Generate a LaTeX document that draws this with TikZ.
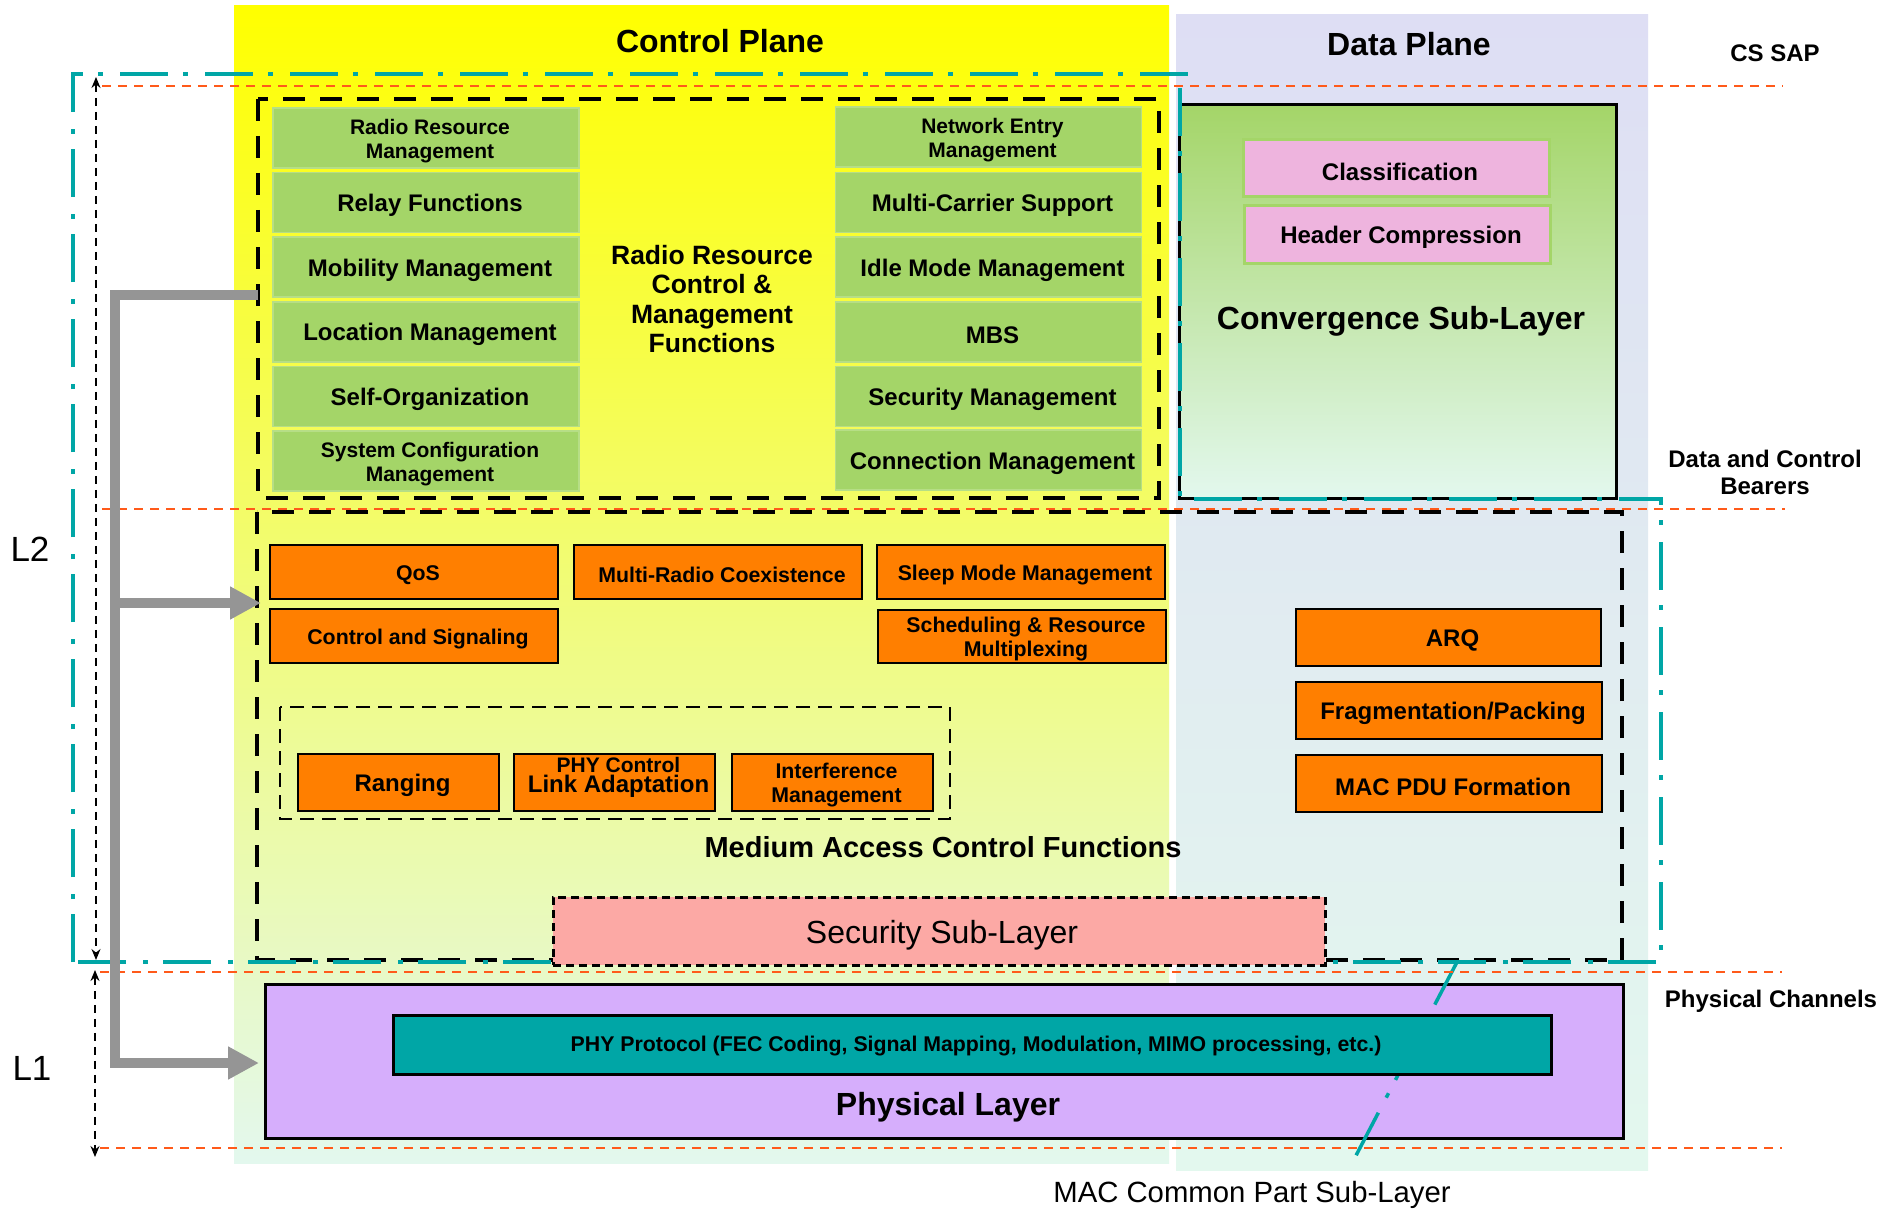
\documentclass[tikz,border=0pt]{standalone}
\usepackage{fontspec}
\setmainfont{Liberation Sans}
\usetikzlibrary{arrows.meta}
\definecolor{cyel}{HTML}{FFFF00}
\definecolor{cyelmid}{HTML}{F2F78E}
\definecolor{cmint}{HTML}{E3F8EE}
\definecolor{clav}{HTML}{DEDEF4}
\definecolor{clavmid}{HTML}{E0E9F1}
\definecolor{cgreen}{HTML}{A4D568}
\definecolor{cgreenl}{HTML}{B6DE86}
\definecolor{corange}{HTML}{FF7F00}
\definecolor{cpink}{HTML}{EEB4DE}
\definecolor{csalmon}{HTML}{FCA9A5}
\definecolor{cpurple}{HTML}{D6AEFC}
\definecolor{cteal}{HTML}{00A6A6}
\definecolor{cred}{HTML}{FF5A1A}
\definecolor{cgray}{HTML}{959595}
\newcommand\fsz[2]{\fontsize{#1}{#2}\selectfont}
\begin{document}
\begin{tikzpicture}[x=1pt,y=-1pt,
  bt/.style={inner sep=0pt, align=center, xshift=4pt, yshift=-3pt},
  gfont/.style={font=\bfseries\fsz{24}{28}},
  gsfont/.style={font=\bfseries\fsz{21}{24}},
  ofont/.style={font=\bfseries\fsz{21.3}{24}},
  olfont/.style={font=\bfseries\fsz{24}{28}},
  gbox/.style={fill=cgreen, draw=cgreenl, line width=1.5pt, minimum width=306pt, minimum height=60pt, inner sep=0pt},
  obox/.style={fill=corange, draw=black, line width=2.5pt, inner sep=0pt},
  pbox/.style={fill=cpink, draw=cgreen, line width=3pt, minimum width=306pt, minimum height=57pt, inner sep=0pt},
  lbl/.style={font=\bfseries\fsz{24}{27}, align=center},
  bigdash/.style={draw=black, line width=4.5pt, dash pattern=on 22pt off 15pt},
  tealdd/.style={draw=cteal, line width=4.5pt, dash pattern=on 48pt off 15pt on 5pt off 17pt},
  reddash/.style={draw=cred, line width=2.5pt, dash pattern=on 9pt off 7pt},
  blkarrow/.style={draw=black, line width=1.5pt, dash pattern=on 8pt off 6pt, {Stealth[length=11pt,width=9pt]}-{Stealth[length=11pt,width=9pt]}},
  grayarrow/.style={draw=cgray, line width=10pt, -{Triangle[length=31pt,width=31pt]}}
]
\useasboundingbox (0,0) rectangle (1879,1209);
\fill[white] (0,0) rectangle (1879,1209);

% plane backgrounds
\shade[top color=cyel, middle color=cyelmid, bottom color=cmint] (234,6) rectangle (1169,1163);
\shade[top color=clav, middle color=clavmid, bottom color=cmint] (1176,15) rectangle (1648,1170);

% control functions
\node[gbox, label={[bt,gsfont]center:Radio Resource\\Management}] (rrm) at (426,138) {};
\node[gbox, label={[bt,gfont]center:Relay Functions}] (relay) at (426,202.6) {};
\node[gbox, label={[bt,gfont]center:Mobility Management}] (mob) at (426,267.2) {};
\node[gbox, label={[bt,gfont]center:Location Management}] (loc) at (426,331.8) {};
\node[gbox, label={[bt,gfont]center:Self-Organization}] (selforg) at (426,396.4) {};
\node[gbox, label={[bt,gsfont]center:System Configuration\\Management}] (syscfg) at (426,461) {};

\node[gbox, label={[bt,gsfont]center:Network Entry\\Management}] (nem) at (988.5,137) {};
\node[gbox, label={[bt,gfont]center:Multi-Carrier Support}] (mcs) at (988.5,202.6) {};
\node[gbox, label={[bt,gfont]center:Idle Mode Management}] (idle) at (988.5,267.2) {};
\node[gbox, label={[bt,gfont]center:MBS}] (mbs) at (988.5,331.8) {};
\node[gbox, label={[bt,gfont]center:Security Management}] (secm) at (988.5,396.4) {};
\node[gbox, label={[bt,gfont]center:Connection Management}] (conn) at (988.5,460) {};

\node[font=\bfseries\fsz{26.5}{29.5}, align=center] (rrc) at (712,299) {Radio Resource\\Control \&\\Management\\Functions};
\draw[bigdash] (258,99) rectangle (1159,498);

% convergence sub-layer
\node[draw=black, line width=3pt, top color=cgreen, bottom color=cmint, minimum width=437pt, minimum height=394pt, anchor=north west] (conv) at (1178,103) {};
\node[pbox, label={[bt,gfont]center:Classification}] (cls) at (1396,168.5) {};
\node[pbox, label={[bt,gfont]center:Header Compression}] (hc) at (1397,234.5) {};
\node[font=\bfseries\fsz{32}{36}] (convl) at (1401,321) {Convergence Sub-Layer};

% MAC functions
\draw[bigdash] (257,512) rectangle (1622,960);
\node[obox, minimum width=288pt, minimum height=54pt, label={[bt,ofont]center:QoS}] (qos) at (414,572) {};
\node[obox, minimum width=288pt, minimum height=54pt, label={[bt,ofont]center:Control and Signaling}] (ctrlsig) at (414,636) {};
\node[obox, minimum width=288pt, minimum height=54pt, label={[bt,ofont]center:Multi-Radio Coexistence}] (mrc) at (718,572) {};
\node[obox, minimum width=288pt, minimum height=54pt, label={[bt,ofont]center:Sleep Mode Management}] (sleep) at (1021,572) {};
\node[obox, minimum width=288pt, minimum height=53pt, label={[bt,ofont]center:Scheduling \& Resource\\Multiplexing}] (sched) at (1022,636.5) {};

\draw[black, line width=2.5pt, dash pattern=on 14pt off 8pt] (280,707) rectangle (950,819);
\node[obox, minimum width=201pt, minimum height=57pt, label={[bt,olfont]center:Ranging}] (ranging) at (398.5,782.5) {};
\node[obox, minimum width=201pt, minimum height=57pt] (linkad) at (614.5,782.5) {};
\node[font=\bfseries\fsz{21}{21}, inner sep=0pt] (phyctl) at (618.5,765) {PHY Control};
\node[font=\bfseries\fsz{24}{24}, inner sep=0pt] (linkl) at (618.5,786) {Link Adaptation};
\node[obox, minimum width=201pt, minimum height=57pt, label={[bt,ofont]center:Interference\\Management}] (interf) at (832.5,782.5) {};

\node[obox, minimum width=305pt, minimum height=57pt, label={[bt,olfont]center:ARQ}] (arq) at (1448.5,637.5) {};
\node[obox, minimum width=306pt, minimum height=57pt, label={[bt,olfont]center:Fragmentation/Packing}] (frag) at (1449,710.5) {};
\node[obox, minimum width=306pt, minimum height=57pt, label={[bt,olfont]center:MAC PDU Formation}] (pdu) at (1449,783.5) {};
\node[font=\bfseries\fsz{29}{32}] (macf) at (943,847) {Medium Access Control Functions};

% physical layer
\node[draw=black, line width=2.5pt, fill=cpurple, minimum width=1358pt, minimum height=154pt, anchor=north west] (phy) at (264,983) {};
\node[font=\bfseries\fsz{32}{36}] (phyl) at (948,1107) {Physical Layer};
\coordinate (mcpsend) at (1350,1167);
\coordinate (mcpsstart) at (1457,962);
\draw[draw=cteal, line width=3.5pt, dash pattern=on 48pt off 15pt on 5pt off 17pt] (mcpsstart) -- (mcpsend);
\node[draw=black, line width=2.5pt, fill=cteal, minimum width=1158pt, minimum height=59pt, anchor=north west] (phyp) at (392,1014) {};
\node[font=\bfseries\fsz{21.3}{24}] (phypl) at (976,1046) {PHY Protocol (FEC Coding, Signal Mapping, Modulation, MIMO processing, etc.)};

% MAC common part sub-layer frame
\draw[tealdd] (73,962) -- (73,74) -- (1191,74);
\draw[tealdd] (1180,88) -- (1180,499) -- (1661,499) -- (1661,962) -- (73,962);

% security sub-layer
\node[fill=csalmon, draw=black, line width=2.5pt, dash pattern=on 8pt off 5pt, minimum width=772pt, minimum height=68pt, anchor=north west] (secsub) at (552,896) {};
\node[font=\fsz{32}{36}] (secl) at (942,935) {Security Sub-Layer};

% reference lines
\draw[reddash] (102,86) -- (1783,86);
\draw[reddash] (102,509) -- (1785,509);
\draw[reddash] (100,972) -- (1782,972);
\draw[reddash] (100,1148) -- (1782,1148);

% L2 / L1 extents
\coordinate (l2top) at (96,77);
\coordinate (l2bot) at (96,960);
\coordinate (l1top) at (95,970);
\coordinate (l1bot) at (95,1157);
\draw[blkarrow] (l2top) -- (l2bot);
\draw[blkarrow] (l1top) -- (l1bot);

% gray arrows
\coordinate (gtop) at (258,295);
\coordinate (gmac) at (261,603);
\coordinate (gphy) at (259,1063);
\draw[grayarrow] (gtop) -- (115,295) -- (115,1063) -- (gphy);
\draw[grayarrow] (115,603) -- (gmac);

% labels
\node[font=\bfseries\fsz{32}{36}] (cp) at (720,41) {Control Plane};
\node[font=\bfseries\fsz{32}{36}] (dp) at (1409,44) {Data Plane};
\node[lbl] (cssap) at (1775,53) {CS SAP};
\node[lbl] (dcb) at (1765,472.5) {Data and Control\\Bearers};
\node[lbl] (pch) at (1771,1001) {Physical Channels};
\node[font=\fsz{35}{40}] (l2) at (30,549) {L2};
\node[font=\fsz{35}{40}] (l1) at (32,1068) {L1};
\node[font=\fsz{29.3}{32}] (mcps) at (1252,1195) {MAC Common Part Sub-Layer};
\end{tikzpicture}
\end{document}
